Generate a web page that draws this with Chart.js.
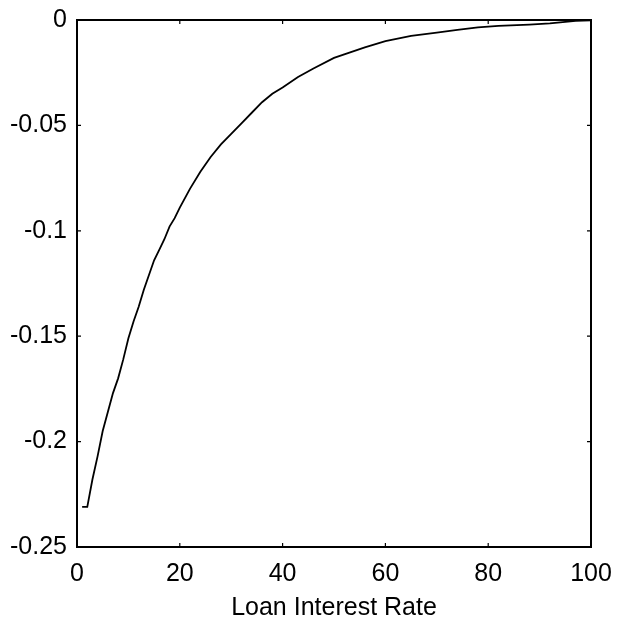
<!DOCTYPE html>
<html>
<head>
<meta charset="utf-8">
<script src="https://cdn.jsdelivr.net/npm/chart.js@4/dist/chart.umd.min.js"></script>
<style>
  html, body { margin: 0; padding: 0; background: #fff; }
  #wrap { width: 618px; height: 626px; }
</style>
</head>
<body>
<div id="wrap"><canvas id="c" width="618" height="626"></canvas></div>
<script>
// ── Datos ────────────────────────────────────────────────────────────
const rates = [1, 2, 3, 4, 5, 6, 7, 8, 9, 10, 11, 12, 13, 14, 15, 16, 17, 18, 19, 20,
  22, 24, 26, 28, 30, 32, 34, 36, 38, 40, 43, 46, 50, 53, 56, 60, 65, 70, 74, 78,
  82, 88, 92, 95, 97, 100];
const effect = [-0.231, -0.231, -0.218, -0.207, -0.195, -0.186, -0.177, -0.170, -0.161, -0.151,
  -0.143, -0.136, -0.128, -0.121, -0.114, -0.109, -0.104, -0.098, -0.094, -0.089,
  -0.080, -0.072, -0.065, -0.059, -0.054, -0.049, -0.044, -0.039, -0.035, -0.032,
  -0.027, -0.023, -0.018, -0.0155, -0.013, -0.010, -0.0075, -0.006, -0.0047, -0.0035,
  -0.0028, -0.0022, -0.0016, -0.0009, -0.0004, -0.0002];

const xTickValues = [0, 20, 40, 60, 80, 100];
const xTickLabels = ['0', '20', '40', '60', '80', '100'];
const yTickValues = [-0.25, -0.2, -0.15, -0.1, -0.05, 0];
const yTickLabels = ['-0.25', '-0.2', '-0.15', '-0.1', '-0.05', '0'];
const xTitle = 'Loan Interest Rate';

const FONT = "'Liberation Sans', Arial, Helvetica, sans-serif";

// ── Caja estilo MATLAB con marcas hacia adentro ─────────────────────
const boxPlugin = {
  id: 'box',
  afterDraw(chart) {
    const { ctx, chartArea: a, scales } = chart;
    const len = 4;
    ctx.save();
    ctx.strokeStyle = '#000';
    ctx.lineWidth = 2;
    ctx.strokeRect(a.left, a.top, a.right - a.left, a.bottom - a.top);
    ctx.beginPath();
    xTickValues.forEach(v => {
      const px = scales.x.getPixelForValue(v);
      ctx.moveTo(px, a.bottom); ctx.lineTo(px, a.bottom - len);
      ctx.moveTo(px, a.top);    ctx.lineTo(px, a.top + len);
    });
    yTickValues.forEach(v => {
      const py = scales.y.getPixelForValue(v);
      ctx.moveTo(a.left, py);  ctx.lineTo(a.left + len, py);
      ctx.moveTo(a.right, py); ctx.lineTo(a.right - len, py);
    });
    ctx.lineWidth = 1.2;
    ctx.stroke();
    ctx.restore();
  }
};

new Chart(document.getElementById('c').getContext('2d'), {
  type: 'line',
  data: {
    datasets: [{
      data: rates.map((r, i) => ({ x: r, y: effect[i] })),
      borderColor: '#000',
      borderWidth: 1.8,
      pointRadius: 0,
      fill: false,
      tension: 0
    }]
  },
  options: {
    responsive: false,
    animation: false,
    layout: { padding: { left: 0, top: 20, right: 27, bottom: 0 } },
    plugins: { legend: { display: false }, tooltip: { enabled: false } },
    scales: {
      x: {
        type: 'linear', min: 0, max: 100,
        grid: { display: false, drawTicks: false },
        border: { display: false },
        afterBuildTicks: s => { s.ticks = xTickValues.map(v => ({ value: v })); },
        afterFit: s => { s.height = 79; s.paddingLeft = 0; s.paddingRight = 0; },
        ticks: {
          color: '#000', padding: 12, maxRotation: 0,
          font: { family: FONT, size: 25 },
          callback: (v, i) => xTickLabels[i]
        },
        title: {
          display: true, text: xTitle, color: '#000',
          font: { family: FONT, size: 25 },
          padding: { top: 3, bottom: 3 }
        }
      },
      y: {
        type: 'linear', min: -0.25, max: 0,
        grid: { display: false, drawTicks: false },
        border: { display: false },
        afterBuildTicks: s => { s.ticks = yTickValues.map(v => ({ value: v })); },
        afterFit: s => { s.width = 77; s.paddingTop = 0; s.paddingBottom = 0; },
        ticks: {
          color: '#000', padding: 10,
          font: { family: FONT, size: 25 },
          callback: (v, i) => yTickLabels[i]
        }
      }
    }
  },
  plugins: [boxPlugin]
});
</script>
</body>
</html>
